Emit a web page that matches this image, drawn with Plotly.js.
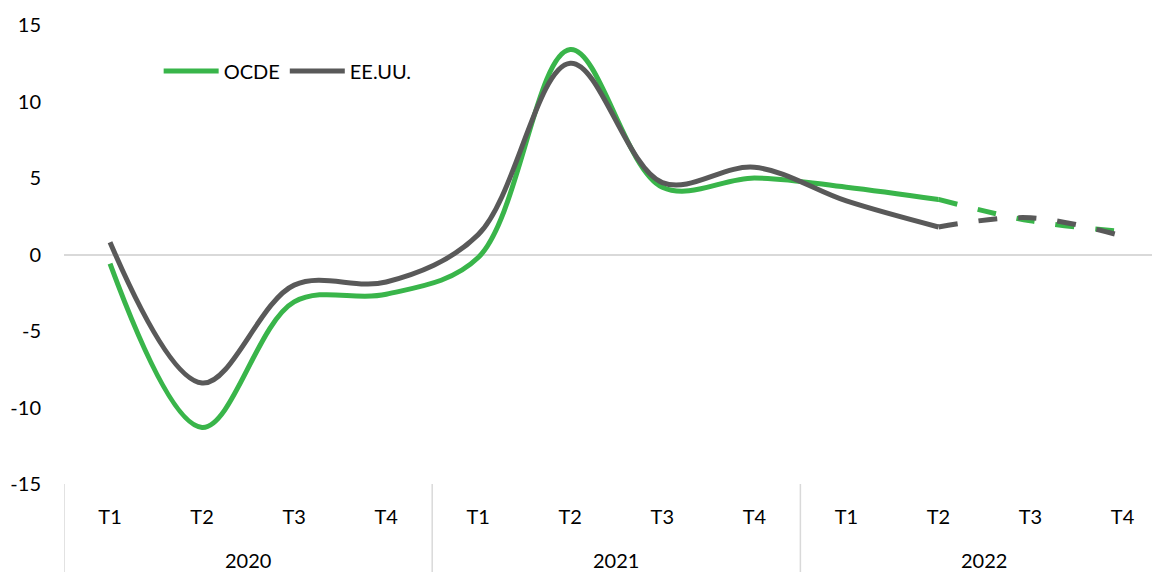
<!DOCTYPE html>
<html>
<head>
<meta charset="utf-8">
<script src="https://cdn.plot.ly/plotly-3.0.1.min.js"></script>
<style>
html, body { margin: 0; padding: 0; background: #fff; overflow: hidden; }
#chart { width: 1152px; height: 572px; }
</style>
</head>
<body>
<div id="chart"></div>
<script>
const years = ['2020','2020','2020','2020','2021','2021','2021','2021','2022','2022','2022','2022'];
const quarters = ['T1','T2','T3','T4','T1','T2','T3','T4','T1','T2','T3','T4'];
const ocde = [-0.6, -11.3, -3.1, -2.6, -0.2, 13.4, 4.4, 5.0, 4.4, 3.6, 2.2, 1.5];
const eeuu = [0.8, -8.4, -2.0, -1.8, 1.3, 12.5, 4.7, 5.7, 3.5, 1.8, 2.4, 1.2];
const seriesNames = ['OCDE', 'EE.UU.'];
const yTickVals = [-15, -10, -5, 0, 5, 10, 15];
const yTickText = ['-15', '-10', '-5', '0', '5', '10', '15'];
const colors = ['#39B54A', '#595959'];
const splitIndex = 9; // last observed quarter (T2 2022); rest are forecasts

const idx = quarters.map((_, i) => i);

const traces = [];
[ocde, eeuu].forEach((vals, i) => {
  traces.push({
    type: 'scatter', mode: 'lines', name: seriesNames[i],
    x: idx.slice(0, splitIndex + 1), y: vals.slice(0, splitIndex + 1),
    line: { color: colors[i], width: 5, shape: 'spline', smoothing: 1 },
    legendgroup: seriesNames[i], showlegend: true, hoverinfo: 'skip'
  });
});
[ocde, eeuu].forEach((vals, i) => {
  traces.push({
    type: 'scatter', mode: 'lines', name: seriesNames[i],
    x: idx.slice(splitIndex), y: vals.slice(splitIndex),
    line: { color: colors[i], width: 5, shape: 'spline', smoothing: 1, dash: '19px,21px' },
    legendgroup: seriesNames[i], showlegend: false, hoverinfo: 'skip'
  });
});

// year groups: centre labels and boundary dividers, derived from the arrays
const groups = [];
years.forEach((y, i) => {
  if (!groups.length || groups[groups.length - 1].year !== y) groups.push({ year: y, start: i, end: i });
  else groups[groups.length - 1].end = i;
});
const annotations = groups.map(g => ({
  x: (g.start + g.end) / 2, xref: 'x', y: -0.1656, yref: 'paper',
  text: g.year, showarrow: false, xanchor: 'center', yanchor: 'middle',
  font: { size: 20, color: '#000' }
}));
const bounds = [groups[0].start - 0.5].concat(groups.map(g => g.end + 0.5));
const shapes = bounds.map(b => ({
  type: 'line', xref: 'x', yref: 'paper', x0: b, x1: b, y0: 0, y1: -0.2,
  line: { color: '#d9d9d9', width: 1.5 }
}));

const layout = {
  width: 1152, height: 572,
  margin: { l: 64, r: 0, t: 25, b: 88 },
  paper_bgcolor: '#fff', plot_bgcolor: '#fff',
  font: { family: 'Lato, "Open Sans", sans-serif', size: 20, color: '#000' },
  showlegend: true,
  legend: {
    orientation: 'h', x: 0.087, xanchor: 'left', y: 0.9, yanchor: 'middle',
    bgcolor: 'rgba(0,0,0,0)', font: { size: 20, color: '#000' },
    itemwidth: 55, traceorder: 'normal'
  },
  annotations: annotations,
  shapes: shapes,
  xaxis: {
    type: 'linear', range: [-0.5, 11.32], autorange: false,
    tickvals: idx, ticktext: quarters,
    showgrid: false, zeroline: false, showline: false,
    ticks: 'outside', ticklen: 15, tickcolor: 'rgba(0,0,0,0)',
    tickfont: { size: 20, color: '#000' }
  },
  yaxis: {
    range: [-15, 15], autorange: false,
    tickvals: yTickVals, ticktext: yTickText,
    showgrid: false, showline: false,
    zeroline: true, zerolinecolor: '#d9d9d9', zerolinewidth: 2,
    ticks: 'outside', ticklen: 18, tickcolor: 'rgba(0,0,0,0)',
    tickfont: { size: 20, color: '#000' }
  }
};

Plotly.newPlot('chart', traces, layout, { staticPlot: true, displayModeBar: false });
</script>
</body>
</html>
